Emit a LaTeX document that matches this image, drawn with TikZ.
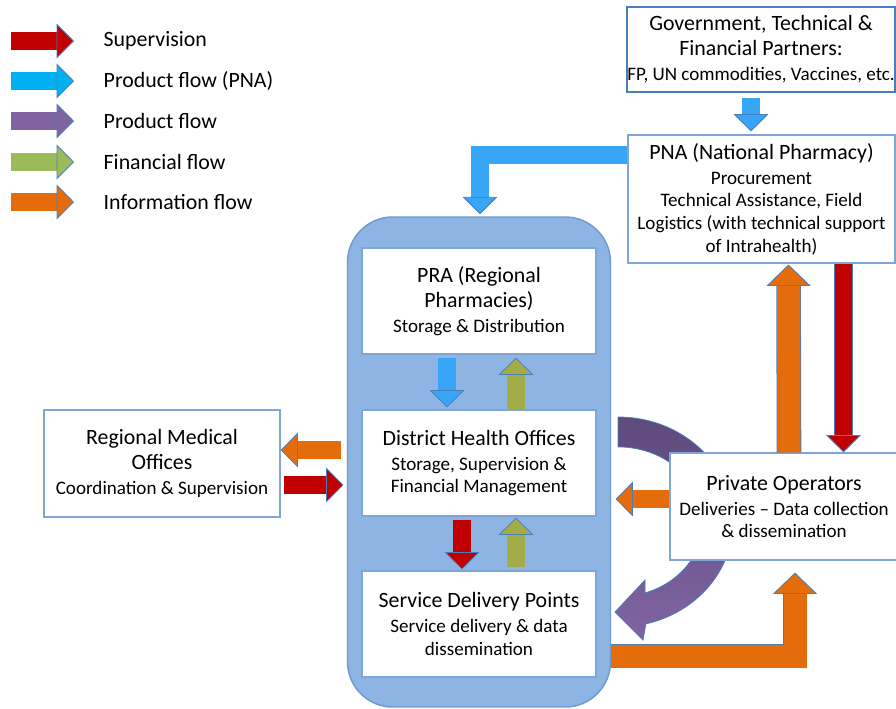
\documentclass[tikz,border=0pt]{standalone}
\usepackage{fontspec}
\setmainfont{Carlito}
\usepackage{tikz}
\usetikzlibrary{arrows.meta,calc,positioning}

\definecolor{supred}{HTML}{C00000}
\definecolor{pnablue}{HTML}{00B0F0}
\definecolor{flowblue}{HTML}{38A6F7}
\definecolor{prodpurple}{HTML}{8064A2}
\definecolor{purpdark}{HTML}{5E4A7C}
\definecolor{fingreen}{HTML}{9BBB59}
\definecolor{finolive}{HTML}{A4AC48}
\definecolor{infoorange}{HTML}{E46C0A}
\definecolor{edge}{HTML}{4A7EBB}
\definecolor{boxline}{HTML}{7EA5D5}
\definecolor{distfill}{HTML}{8EB4E3}
\definecolor{distline}{HTML}{6D9AD0}

\newcommand{\subtxt}{\fontsize{14.3}{17}\selectfont}

\tikzset{
  box/.style={draw=boxline, fill=white, line width=.8pt, align=center, inner sep=0pt,
    font=\fontsize{16.4}{18.75}\selectfont},
  legend/.style={anchor=west, font=\fontsize{16.4}{18}\selectfont},
  flow/.style={draw=#1, line width=13pt,
    -{Triangle[length=13pt,width=26pt,line width=.6pt,color=edge,fill=#1]},
    preaction={draw=edge, line width=14.2pt, -, shorten >=12pt}},
  wideflow/.style={draw=#1, line width=17.25pt,
    -{Triangle[length=16pt,width=33pt,line width=.6pt,color=edge,fill=#1]},
    preaction={draw=edge, line width=18.45pt, -, shorten >=15pt}},
}

\begin{document}
\begin{tikzpicture}[x=0.75pt, y=-0.75pt]
\useasboundingbox (0,0) rectangle (896,708);
% Legend
\foreach \y/\c/\t in {41/supred/Supervision, 81/pnablue/Product flow (PNA),
    121/prodpurple/Product flow, 162/fingreen/Financial flow, 202/infoorange/Information flow}{
  \draw[flow=\c] (11,\y) -- (74,\y);
  \node[legend] (leg\y) at (99,\y) {\t};
}
% District container
\node[draw=distline, fill=distfill, line width=1.1pt, rounded corners=34pt,
  minimum width=197.25pt, minimum height=367.5pt] (dist) at (479,462) {};
% Curved product flow (behind the private operators)
\shade[top color=purpdark, bottom color=prodpurple, draw=edge, line width=.6pt]
  (618,417) arc[start angle=90, end angle=-76, x radius=86.25pt, y radius=78.75pt]
  -- (643,640) -- (615,612) -- (645,580) -- (645,593)
  arc[start angle=-71.5, end angle=90, x radius=63.75pt, y radius=56.25pt] -- cycle;
% Boxes
\node[box, minimum width=175.5pt, minimum height=79.5pt] (pra) at (479,301)
  {PRA (Regional\\Pharmacies)\\{\subtxt Storage \& Distribution}};
\node[box, minimum width=175.5pt, minimum height=79.5pt] (dho) at (479,463)
  {District Health Offices\\{\subtxt Storage, Supervision \&}\\[-1.75pt]{\subtxt Financial Management}};
\node[box, minimum width=175.5pt, minimum height=79.5pt] (sdp) at (479,624)
  {Service Delivery Points\\{\subtxt Service delivery \& data}\\[-1.75pt]{\subtxt dissemination}};
\node[box, minimum width=177pt, minimum height=80.25pt] (rmo) at (162,463.5)
  {Regional Medical\\Offices\\{\subtxt Coordination \& Supervision}};
\node[box, draw=edge, line width=1.9pt, minimum width=201pt, minimum height=63.75pt] (gov) at (761,49.5)
  {Government, Technical \&\\Financial Partners:\\{\subtxt FP, UN commodities, Vaccines, etc.}};
\node[box, minimum width=200.25pt, minimum height=96pt] (pna) at (761.5,199)
  {PNA (National Pharmacy)\\{\subtxt Procurement}\\[-1.75pt]{\subtxt Technical Assistance, Field}\\[-1.75pt]{\subtxt Logistics (with technical support}\\[-1.75pt]{\subtxt of Intrahealth)}};
\node[box, minimum width=171pt, minimum height=80.25pt] (po) at (784,506.5)
  {Private Operators\\{\subtxt Deliveries -- Data collection}\\[-1.75pt]{\subtxt \& dissemination}};
% Flows
\draw[flow=flowblue] ($(gov.south)+(-10,5)$) -- ($(pna.north)+(-10.5,-3)$);
\draw[flow=flowblue] ($(pna.north west)+(0,20.5)$) -| ($(dist.north)+(1,-2)$);
\draw[flow=flowblue] ($(pra.south)+(-32,3)$) -- ($(dho.north)+(-32,-2)$);
\draw[flow=finolive] ($(dho.north)+(37,0)$) -- ($(pra.south)+(37,3)$);
\draw[flow=supred] ($(dho.south)+(-17,3)$) -- ($(sdp.north)+(-17,-1)$);
\draw[flow=finolive] ($(sdp.north)+(37,-3)$) -- ($(dho.south)+(37,1)$);
\draw[flow=infoorange] ($(dho.west)+(-20,-13)$) -- ($(rmo.east)+(0,-13.5)$);
\draw[flow=supred] ($(rmo.east)+(3,21.5)$) -- ($(dho.west)+(-18,22)$);
\draw[flow=infoorange] ($(po.west)+(0,-7.5)$) -- ($(dho.east)+(19,36)$);
\draw[wideflow=infoorange] ($(po.north)+(5,0)$) -- ($(pna.south)+(27,1)$);
\draw[flow=supred] ($(pna.south)+(82,0)$) -- ($(po.north)+(59.5,0)$);
\draw[wideflow=infoorange] ($(dist.east)+(0,194)$) -| ($(po.south)+(11,12)$);
\end{tikzpicture}
\end{document}
